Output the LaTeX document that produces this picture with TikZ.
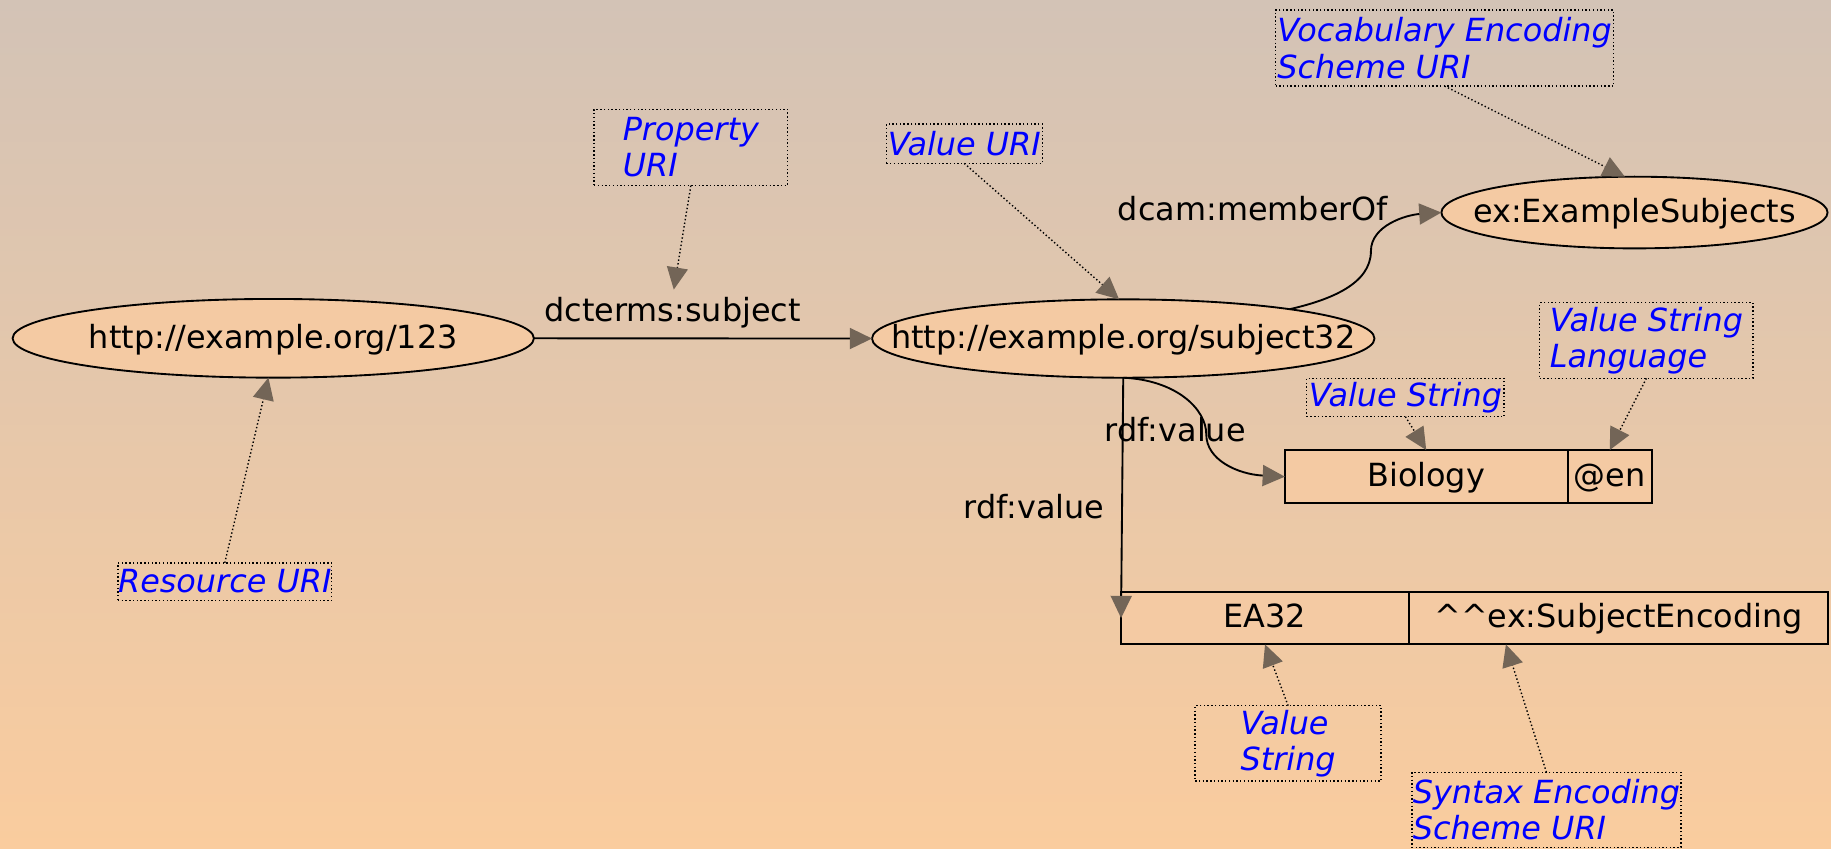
\documentclass[tikz,border=0pt]{standalone}
\usepackage{fontspec}
\setmainfont{DejaVu Sans}
\usetikzlibrary{arrows.meta,shapes.geometric,calc}
\definecolor{bgtop}{RGB}{211,195,182}
\definecolor{bgbot}{RGB}{250,204,158}
\definecolor{nodefill}{RGB}{244,202,163}
\definecolor{arrowc}{RGB}{115,101,87}
\definecolor{lblue}{RGB}{0,0,255}
\begin{document}
\begin{tikzpicture}[x=1pt,y=-1pt,
  every node/.style={font=\fontsize{27.3pt}{31pt}\selectfont, inner sep=0pt, outer sep=0pt},
  resnode/.style={ellipse, draw=black, line width=1.6pt, fill=nodefill, text height=21pt, text depth=4pt},
  recnode/.style={rectangle, draw=black, line width=1.6pt, fill=nodefill, text height=21pt, text depth=4pt},
  elab/.style={text height=21pt, text depth=4pt},
  notebox/.style={rectangle, draw=black, dotted, line width=1.2pt, align=left, text=lblue, font=\fontsize{27.3pt}{31pt}\selectfont\itshape},
  headed/.style={-{Triangle[length=19pt,width=18pt,color=arrowc]}},
  edgesolid/.style={headed, draw=black, line width=1.6pt},
  edgedot/.style={headed, draw=black, dotted, line width=1.2pt},
]
\useasboundingbox (0,0) rectangle (1568,726.2);
\path[top color=bgtop, bottom color=bgbot] (0,0) rectangle (1568,726.2);

% resources
\node[resnode, minimum width=446.4pt, minimum height=67.4pt] (A) at (234,289.7) {};
\node[elab] (At) at (A.center) {http://example.org/123};
\node[resnode, minimum width=430.3pt, minimum height=67.1pt] (B) at (961.9,289.9) {};
\node[elab] (Bt) at (B.center) {http://example.org/subject32};
\node[resnode, minimum width=330.7pt, minimum height=61.4pt] (C) at (1399.7,182) {};
\node[elab] (Ct) at (C.center) {ex:ExampleSubjects};

% records
\node[recnode, minimum width=242.1pt, minimum height=45.6pt] (bio) at (1221.35,408.2) {Biology};
\node[recnode, minimum width=72.2pt, minimum height=45.6pt] (en) at (1378.5,408.2) {@en};
\node[recnode, minimum width=246.6pt, minimum height=45.1pt] (ea) at (1083.3,529.25) {EA32};
\node[recnode, minimum width=359pt, minimum height=45.1pt] (enc) at (1386.1,529.25) {\textasciicircum\textasciicircum ex:SubjectEncoding};

% edge labels
\node[elab] (lsub) at (576,266.5) {dcterms:subject};
\node[elab] (lmem) at (1073,179.9) {dcam:memberOf};
\node[elab] (lval1) at (1006.5,369.5) {rdf:value};
\node[elab] (lval2) at (885.5,435.4) {rdf:value};

% annotation boxes
\node[notebox, minimum width=165.7pt, minimum height=65.4pt] (prop) at (591.6,126.3) {Property\\URI};
\node[notebox, minimum width=133.5pt, minimum height=33.7pt] (vuri) at (825.75,123.05) {Value URI};
\node[notebox, minimum width=289.5pt, minimum height=65.1pt] (voc) at (1237.05,41.15) {Vocabulary Encoding\\Scheme URI};
\node[notebox, minimum width=182.8pt, minimum height=64.8pt] (vsl) at (1409.9,291.6) {Value String\\Language};
\node[notebox, minimum width=169pt, minimum height=32.8pt] (vs1) at (1203.5,340.4) {Value String};
\node[notebox, minimum width=183pt, minimum height=32pt] (resuri) at (192.5,498) {Resource URI};
\node[notebox, minimum width=159.2pt, minimum height=64.5pt] (vs2) at (1103.1,636.55) {Value\\String};
\node[notebox, minimum width=230.4pt, minimum height=64.2pt] (syn) at (1324.3,693.5) {Syntax Encoding\\Scheme URI};

% helper coordinates
\coordinate (psub) at (577,248);
\coordinate (m1) at (1174,215);
\coordinate (m2) at (1033,372);

% solid edges
\draw[edgesolid] (A.east) -- (B.west);
\draw[edgesolid] (B.10) .. controls +(35,-8) and +(0,28) .. (m1) .. controls +(0,-22) and +(-30,2) .. (C.west);
\draw[edgesolid] (B.south) .. controls +(45,2) and +(0,-22) .. (m2) .. controls +(0,22) and +(-40,-2) .. (bio.west);
\draw[edgesolid] (B.south) -- (ea.west);

% dotted edges
\draw[edgedot] (prop.south) -- (psub);
\draw[edgedot] (vuri.south) -- (B.96);
\draw[edgedot] (voc.south) -- (C.105);
\draw[edgedot] (resuri.north) -- (A.263);
\draw[edgedot] (vs1.south) -- (bio.north);
\draw[edgedot] (vsl.south) -- (en.north);
\draw[edgedot] (vs2.north) -- (ea.south);
\draw[edgedot] (syn.north) -- ($(enc.south west)+(83,0)$);
\end{tikzpicture}
\end{document}
